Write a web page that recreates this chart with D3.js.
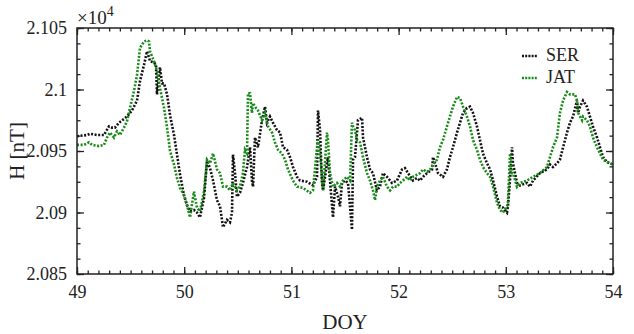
<!DOCTYPE html>
<html>
<head>
<meta charset="utf-8">
<script src="https://cdn.jsdelivr.net/npm/d3@7"></script>
<style>
  body { margin: 0; background: #fff; }
  svg text { font-family: "Liberation Serif", "Times New Roman", serif; fill: #222; }
</style>
</head>
<body>
<svg width="634" height="334"></svg>
<script>
// SER station, DOY and H (nT)
var serDoy = [49.000,49.093,49.121,49.187,49.252,49.298,49.326,49.354,49.392,49.438,49.466,49.513,49.560,49.588,49.625,49.653,49.672,49.681,49.718,49.737,49.746,49.774,49.793,49.812,49.840,49.868,49.905,49.933,49.961,49.998,
  50.026,50.054,50.091,50.119,50.147,50.185,50.213,50.241,50.269,50.306,50.334,50.362,50.399,50.427,50.446,50.455,50.474,50.492,50.520,50.548,50.586,50.614,50.632,50.642,50.660,50.688,50.726,50.754,50.772,50.800,50.828,50.866,50.894,50.922,50.959,50.987,
  51.015,51.052,51.080,51.146,51.201,51.239,51.248,51.267,51.285,51.295,51.332,51.341,51.360,51.388,51.407,51.435,51.453,51.472,51.500,51.528,51.547,51.565,51.575,51.593,51.612,51.621,51.659,51.668,51.705,51.733,51.761,51.798,51.826,51.854,51.892,51.938,51.985,
  52.032,52.060,52.088,52.134,52.172,52.200,52.228,52.265,52.312,52.321,52.340,52.368,52.414,52.451,52.479,52.507,52.545,52.573,52.601,52.638,52.666,52.694,52.731,52.759,52.787,52.825,52.853,52.881,52.918,52.946,52.974,
  53.011,53.020,53.039,53.058,53.067,53.086,53.104,53.132,53.198,53.226,53.254,53.319,53.384,53.412,53.440,53.478,53.505,53.534,53.571,53.599,53.627,53.664,53.674,53.692,53.720,53.757,53.785,53.813,53.851,53.879,53.907,53.944,53.972,54.000];
var serH = [20962,20963,20964,20963,20963,20970,20969,20969,20973,20976,20978,20983,20991,21007,21020,21031,21026,21023,21022,21020,20996,21018,21005,21005,20996,20979,20963,20947,20931,20914,
  20906,20901,20902,20900,20896,20912,20942,20936,20926,20910,20905,20888,20894,20892,20900,20947,20932,20913,20916,20924,20937,20953,20926,20921,20961,20953,20975,20986,20973,20978,20973,20967,20965,20953,20951,20945,
  20937,20929,20926,20925,20922,20929,20983,20967,20924,20918,20940,20945,20926,20896,20921,20913,20905,20924,20926,20924,20905,20886,20943,20945,20965,20975,20977,20961,20945,20935,20932,20918,20921,20932,20929,20924,20926,
  20935,20936,20932,20926,20928,20926,20929,20932,20935,20945,20940,20932,20929,20935,20945,20953,20965,20973,20981,20985,20986,20981,20970,20959,20948,20940,20935,20926,20913,20905,20904,
  20900,20905,20926,20953,20940,20932,20924,20922,20924,20921,20926,20932,20935,20939,20937,20940,20943,20953,20965,20973,20978,20991,20981,20986,20991,20986,20978,20970,20961,20953,20945,20941,20940,20939];

// JAT station, DOY and H (nT)
var jatDoy = [49.000,49.065,49.112,49.140,49.205,49.252,49.280,49.308,49.345,49.373,49.401,49.438,49.466,49.494,49.532,49.560,49.588,49.625,49.653,49.672,49.681,49.718,49.746,49.774,49.812,49.840,49.868,49.905,49.933,49.961,49.998,
  50.026,50.054,50.091,50.119,50.147,50.185,50.213,50.241,50.269,50.306,50.334,50.362,50.399,50.427,50.455,50.492,50.520,50.548,50.567,50.586,50.595,50.614,50.632,50.642,50.660,50.688,50.726,50.754,50.782,50.819,50.847,50.875,50.912,50.940,50.968,
  51.015,51.052,51.108,51.173,51.201,51.239,51.248,51.267,51.295,51.313,51.332,51.341,51.360,51.388,51.425,51.453,51.481,51.519,51.547,51.565,51.575,51.593,51.612,51.640,51.668,51.705,51.733,51.761,51.780,51.798,51.826,51.854,51.892,51.920,51.948,51.985,
  52.013,52.041,52.078,52.106,52.134,52.200,52.228,52.265,52.293,52.321,52.358,52.386,52.414,52.451,52.479,52.507,52.545,52.573,52.601,52.638,52.666,52.694,52.731,52.759,52.787,52.825,52.853,52.881,52.918,52.946,52.974,
  53.011,53.020,53.039,53.058,53.067,53.104,53.132,53.198,53.254,53.319,53.384,53.412,53.440,53.478,53.505,53.534,53.571,53.599,53.646,53.664,53.674,53.711,53.720,53.757,53.785,53.813,53.851,53.879,53.907,53.944,53.972,54.000];
var jatH = [20955,20955,20957,20955,20954,20955,20961,20965,20961,20966,20963,20969,20974,20985,20999,21012,21034,21039,21040,21039,21031,21023,21015,21001,20985,20969,20950,20939,20928,20920,20914,
  20906,20896,20917,20904,20901,20917,20943,20940,20948,20935,20932,20921,20921,20918,20924,20918,20921,20932,20951,20948,20997,20997,20981,20989,20986,20983,20975,20981,20970,20965,20957,20951,20948,20943,20935,
  20926,20921,20920,20916,20918,20953,20959,20948,20918,20940,20965,20959,20932,20921,20924,20921,20926,20929,20926,20973,20970,20967,20959,20957,20945,20932,20926,20918,20910,20921,20926,20929,20921,20918,20921,20921,
  20924,20926,20929,20926,20929,20932,20935,20933,20935,20939,20943,20953,20959,20970,20978,20986,20994,20993,20986,20978,20970,20959,20951,20943,20937,20932,20929,20921,20908,20902,20900,
  20905,20908,20948,20932,20932,20921,20924,20926,20929,20932,20937,20945,20953,20961,20981,20991,20998,20996,20996,20991,20981,20975,20978,20975,20970,20961,20953,20948,20943,20941,20940,20939];

var xTicks = [49, 50, 51, 52, 53, 54];
var yTicks = [20850, 20900, 20950, 21000, 21050];
var seriesNames = ["SER", "JAT"];
var seriesColors = ["#111111", "#178a17"];

var svg = d3.select("svg"),
    margin = {top: 28, right: 21, bottom: 60, left: 77},
    width = +svg.attr("width") - margin.left - margin.right,
    height = +svg.attr("height") - margin.top - margin.bottom,
    g = svg.append("g").attr("transform", "translate(" + margin.left + "," + margin.top + ")");

var x = d3.scaleLinear().domain([49, 54]).range([0, width]);
var y = d3.scaleLinear().domain([20850, 21050]).range([height, 0]);

var fmt = function(d) { return d3.format(".3~f")(d / 1e4); };
var xMinor = d3.range(49, 54.0001, 0.1);
var yMinor = d3.range(20850, 21050.001, 12.5);

function styleAxis(sel) {
  sel.select(".domain").remove();
  sel.selectAll("line").attr("stroke", "#222").attr("stroke-width", 1.3);
  sel.selectAll("text").attr("font-size", 18).attr("font-family", "Liberation Serif");
}

// minor ticks (all four sides, pointing in)
[[d3.axisBottom(x), "translate(0," + height + ")", xMinor],
 [d3.axisTop(x), null, xMinor],
 [d3.axisLeft(y), null, yMinor],
 [d3.axisRight(y), "translate(" + width + ",0)", yMinor]].forEach(function(a) {
  var ax = g.append("g").call(a[0].tickValues(a[2]).tickSize(-3.5).tickFormat(""));
  if (a[1]) ax.attr("transform", a[1]);
  styleAxis(ax);
});

// major ticks
var bottom = g.append("g").attr("transform", "translate(0," + height + ")")
  .call(d3.axisBottom(x).tickValues(xTicks).tickSize(-7).tickPadding(11).tickFormat(d3.format("d")));
styleAxis(bottom);
styleAxis(g.append("g").call(d3.axisTop(x).tickValues(xTicks).tickSize(-7).tickFormat("")));
var left = g.append("g").call(d3.axisLeft(y).tickValues(yTicks).tickSize(-7).tickPadding(10).tickFormat(fmt));
styleAxis(left);
styleAxis(g.append("g").attr("transform", "translate(" + width + ",0)")
  .call(d3.axisRight(y).tickValues(yTicks).tickSize(-7).tickFormat("")));

// series
var line = d3.line()
  .x(function(d) { return x(d[0]); })
  .y(function(d) { return y(d[1]); });

var series = [d3.zip(serDoy, serH), d3.zip(jatDoy, jatH)];

g.append("g").selectAll("path")
  .data(series)
  .enter().append("path")
  .attr("fill", "none")
  .attr("stroke", function(d, i) { return seriesColors[i]; })
  .attr("stroke-width", 2.6)
  .attr("stroke-dasharray", "2,1.6")
  .attr("d", line);

// frame
g.append("rect")
  .attr("width", width).attr("height", height)
  .attr("fill", "none").attr("stroke", "#222").attr("stroke-width", 1.5);

// legend
var legend = g.append("g").attr("transform", "translate(" + (width - 91) + ",28)")
  .selectAll("g").data(seriesNames).enter().append("g")
  .attr("transform", function(d, i) { return "translate(0," + i * 22 + ")"; });
legend.append("line")
  .attr("x1", 0).attr("x2", 15)
  .attr("stroke", function(d, i) { return seriesColors[i]; })
  .attr("stroke-width", 2.6).attr("stroke-dasharray", "2,1.2");
legend.append("text")
  .attr("x", 24).attr("y", 5)
  .attr("font-size", 18)
  .text(function(d) { return d; });

// axis titles
svg.append("text")
  .attr("x", margin.left + width / 2).attr("y", 329)
  .attr("text-anchor", "middle").attr("font-size", 21)
  .text("DOY");
svg.append("text")
  .attr("transform", "translate(24," + (margin.top + height / 2) + ")rotate(-90)")
  .attr("text-anchor", "middle").attr("font-size", 21)
  .text("H [nT]");

// exponent label
var expo = svg.append("text").attr("x", margin.left).attr("y", 24).attr("font-size", 19);
expo.append("tspan").text("\u00d710");
expo.append("tspan").attr("dy", -8).attr("font-size", 14).text("4");
</script>
</body>
</html>
